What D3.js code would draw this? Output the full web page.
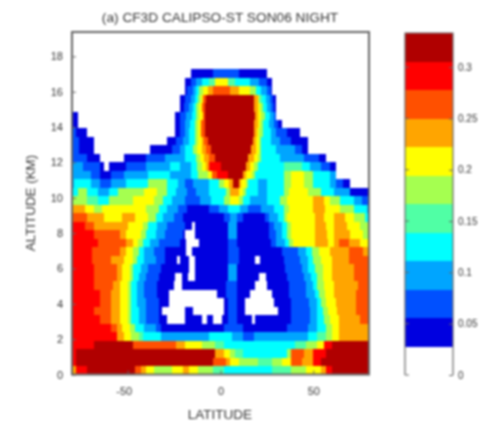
<!DOCTYPE html>
<html>
<head>
<meta charset="utf-8">
<script src="https://cdn.jsdelivr.net/npm/d3@7"></script>
<style>
html, body { margin: 0; background: #fff; }
svg { display: block; filter: blur(1px); }
text { font-family: "Liberation Sans", Arial, sans-serif; fill: #333; }
</style>
</head>
<body>
<svg id="chart" width="481" height="423"></svg>
<script>
// Tick labels
const latTicks = [-50, 0, 50];
const altTicks = [0, 2, 4, 6, 8, 10, 12, 14, 16, 18];
const cfTicks = [0, 0.05, 0.1, 0.15, 0.2, 0.25, 0.3];

// Colour levels of the bar, level 0 is the white one
const levelColors = ["#ffffff", "#0000e0", "#0050ff", "#00a5ff", "#00ffff", "#50ffa5", "#a5ff50",
    "#ffff00", "#ffa500", "#ff5000", "#ff0000", "#b00000"];
const cfMax = 0.3333;
const altStep = 0.48;

// One row per altitude bin, from the ground up: level, latitude where it ends, level, latitude...
const cfRows = [
    [8,-78, 10,-72, 11,-46, 9,-43, 8,-40, 7,-36, 6,-26, 7,-20, 8,-17, 7,-12, 6,-4, 5,2, 4,28, 5,38, 6,46, 7,54, 8,57, 10,60, 11,80],
    [10,-78, 11,-4, 9,3, 8,5, 7,10, 6,20, 5,28, 6,33, 7,38, 9,44, 8,50, 10,54, 11,80],
    [10,-78, 11,-3, 8,2, 7,5, 6,8, 5,12, 4,36, 6,38, 9,45, 8,50, 10,57, 11,80],
    [10,-68, 11,-47, 9,-24, 8,-19, 7,-10, 6,-3, 5,2, 4,40, 5,46, 6,52, 7,56, 10,60, 11,80],
    [10,-56, 8,-52, 7,-48, 6,-44, 5,-42, 4,-32, 3,-6, 4,6, 3,12, 2,18, 3,47, 4,52, 5,57, 6,60, 7,64, 8,80],
    [10,-59, 9,-56, 8,-53, 7,-49, 6,-46, 4,-41, 3,-35, 2,-32, 1,2, 2,12, 1,36, 2,47, 3,52, 4,57, 6,60, 7,64, 8,80],
    [10,-65, 9,-59, 8,-54, 7,-50, 6,-48, 4,-44, 3,-40, 2,-33, 1,-29, 0,-19, 1,-10, 0,-7.5, 1,-4, 0,1, 1,4, 2,9, 1,17, 0,18.5, 1,38, 2,48, 3,52, 4,55.5, 6,59, 7,64, 8,75, 9,80],
    [10,-68, 9,-59, 8,-54, 7,-50, 6,-48, 4,-44, 3,-40, 2,-33, 1,-31.7, 0,-19, 1,-15, 0,2, 1,4, 2,9, 1,13, 0,31, 1,38, 2,48, 3,52, 4,55, 6,58, 7,63, 8,73, 9,80],
    [10,-65, 9,-59, 8,-54, 7,-50, 6,-48, 4,-45, 3,-40, 2,-33, 1,-28, 0,2, 1,4, 2,9, 1,13, 0,29, 1,38, 2,47.5, 3,52, 4,54, 6,57, 7,62, 8,73, 9,80],
    [10,-65, 9,-59, 8,-54, 7,-50, 6,-48, 4,-45, 3,-41, 2,-34, 1,-28, 0,-2, 1,3, 2,9, 1,16, 0,27.6, 1,37, 2,46, 3,51, 4,53, 6,56.5, 7,61, 8,73, 9,80],
    [10,-68, 9,-58, 8,-54, 7,-50, 6,-48, 4,-45, 3,-41, 2,-34, 1,-25, 0,-21, 1,3, 2,9, 1,18.6, 0,25, 1,37, 2,46, 3,50, 4,52, 6,56, 7,61, 8,74, 9,80],
    [10,-68, 9,-56, 8,-53, 7,-49, 6,-47, 4,-44, 3,-40, 2,-33, 1,-24.5, 0,-20.5, 1,-17.5, 0,-13.7, 1,4, 3,9, 1,21, 0,24.5, 1,36, 2,45, 3,49, 4,52, 6,55, 7,60, 8,72, 9,80],
    [10,-68, 9,-56, 8,-53, 7,-49, 6,-47, 4,-43, 3,-39, 2,-32, 1,-17, 0,-13.7, 1,4, 3,9, 1,35, 2,44, 3,47, 4,51, 6,55, 7,60, 8,72, 9,80],
    [10,-69, 9,-59, 8,-52, 7,-47, 6,-45, 4,-41, 3,-35, 2,-30, 1,-23.6, 0,-21.6, 1,-17, 0,-13.7, 1,4, 2,10, 1,18.6, 0,21.4, 1,34, 2,43, 3,47, 4,50, 6,54, 7,60, 8,69, 9,80],
    [10,-69, 9,-54, 8,-51, 7,-47, 6,-44, 4,-41, 3,-36, 2,-30, 1,-18.6, 0,-15.5, 1,4, 2,10, 1,33, 2,42, 3,46, 4,49.5, 6,53, 7,59, 8,69, 9,77, 8,80],
    [10,-66, 9,-51, 8,-47, 7,-44.5, 6,-42, 4,-38, 3,-33, 2,-22, 1,-18.6, 0,-11.6, 1,4, 2,9, 1,27, 2,30, 3,35, 4,37, 6,39, 7,51, 8,58, 7,61, 8,64, 9,69, 8,75, 7,80],
    [10,-68, 9,-54, 8,-51, 7,-43, 6,-40, 4,-35, 3,-30, 2,-20, 1,-19, 0,-14, 1,4, 3,9, 1,26, 2,30, 3,33, 4,36, 6,38, 7,51, 8,57.5, 7,61, 8,70, 7,77, 6,80],
    [10,-73, 9,-68, 8,-50, 7,-42, 6,-39, 4,-34, 3,-29, 2,-19, 1,-15.5, 0,-13.7, 1,4, 3,9, 1,26, 2,29, 3,33, 4,36, 6,38, 7,51, 8,57, 7,61, 8,68, 7,75, 6,80],
    [9,-72, 8,-63, 7,-53, 8,-46, 7,-39, 6,-35, 4,-31, 3,-25, 2,-20, 1,2, 2,5, 3,9, 2,12, 1,24, 2,26, 3,31, 4,34, 6,36, 7,51, 8,56, 7,61, 8,67, 7,72, 6,78, 4,80],
    [8,-73, 7,-68, 6,-64, 7,-40, 6,-33, 4,-29, 3,-23, 2,-18, 1,-6, 2,-1, 3,4, 4,10.5, 3,15, 2,22, 3,29, 4,34, 6,37, 7,50, 8,56.5, 7,64.5, 6,72, 4,79, 3,80],
    [6,-72, 5,-66, 4,-60, 6,-47, 7,-36, 6,-31, 4,-26, 3,-19, 2,-11, 3,-5, 4,2, 6,5, 7,10, 6,12, 4,16, 3,25, 4,32, 6,36, 7,50, 8,55.5, 7,59, 6,64.5, 4,72, 3,76, 2,80],
    [4,-77, 6,-72, 4,-66, 3,-60, 4,-55, 6,-41, 7,-34, 6,-29, 4,-24, 3,-18, 2,-13, 3,-6, 4,3, 6,5, 8,10, 7,12, 6,14, 4,20, 3,25, 4,34, 6,37, 7,47, 6,54, 4,61, 3,70, 1,80],
    [3,-79, 4,-70, 3,-65, 2,-59, 3,-51, 4,-39, 6,-29, 4,-23, 3,-19, 2,-15, 3,-6, 4,-1, 6,2, 7,4.5, 8,7, 11,10, 8,11, 7,13.5, 6,15, 4,20, 3,25, 4,34, 6,38, 7,45, 6,50, 4,59, 3,62, 2,66, 1,70, 0,80],
    [3,-70, 2,-65, 1,-59, 2,-52, 3,-39, 4,-27, 3,-16, 4,-12, 6,-7, 7,-4.5, 9,-2, 10,4, 11,12, 8,14, 7,17, 6,18.6, 4,34, 6,38, 7,45, 6,50, 4,59, 3,62, 0,80],
    [3,-74, 2,-65, 1,-63, 0,-60, 1,-51, 2,-40, 3,-27, 4,-22, 3,-16, 4,-12.5, 6,-10, 7,-8, 8,-6, 10,0, 11,14, 8,16, 7,18, 6,20, 4,34, 5,44, 4,48, 3,54, 2,59, 1,62, 0,80],
    [2,-72, 1,-65, 0,-52, 1,-40, 2,-30, 3,-19, 4,-13, 6,-11, 7,-9, 8,-6, 9,-3, 11,15, 8,18, 7,20, 6,22, 4,32, 3,45, 2,53, 1,57, 0,80],
    [2,-76, 1,-68, 0,-38, 1,-26, 2,-22, 3,-19, 4,-15, 6,-12.5, 7,-10, 8,-8, 9,-5, 11,16.5, 8,19, 7,20.5, 6,22, 4,30, 3,40, 2,44, 1,47, 0,80],
    [2,-76, 1,-68, 0,-29, 1,-24, 2,-20, 3,-17, 4,-14, 6,-12, 7,-10, 8,-9, 9,-7, 11,17.5, 8,19, 7,20.5, 6,22, 4,27, 3,32, 2,38, 1,47, 0,80],
    [2,-78, 1,-72, 0,-24.5, 1,-22, 2,-19, 3,-17, 4,-14, 6,-12, 7,-10.5, 9,-8.5, 11,18, 8,19.5, 7,21, 6,23, 4,27, 3,30, 2,36, 1,43, 0,80],
    [1,-77, 0,-24.5, 1,-22, 2,-19, 3,-16.5, 4,-14, 6,-12, 7,-10.5, 9,-8.5, 11,18, 8,20, 7,21.5, 6,23, 4,26, 3,29, 2,31, 1,33, 0,80],
    [1,-77, 0,-24.5, 1,-22, 2,-18.6, 3,-15.5, 4,-13, 6,-11.4, 7,-9.6, 9,-8.4, 11,18.6, 8,20.4, 7,22, 6,24, 4,26.7, 3,29, 2,30, 0,80],
    [0,-22, 1,-19.5, 2,-17, 3,-15, 4,-13, 6,-11.5, 7,-10, 9,-8.5, 11,18, 8,20, 7,21.5, 6,23, 4,25, 3,27, 2,29, 1,30, 0,80],
    [0,-22, 1,-19, 2,-16, 3,-14, 4,-12, 6,-10.5, 7,-9.5, 9,-8, 11,18, 8,20, 7,21, 5,22.5, 4,24.5, 3,26.5, 2,28.5, 1,30, 0,80],
    [0,-19, 1,-18, 2,-15, 3,-13, 4,-11.5, 6,-9.5, 7,-7, 8,-4, 9,5, 8,10, 7,16, 6,19, 4,22, 3,25, 2,27, 1,28, 0,80],
    [0,-19, 1,-16, 2,-13, 3,-10, 4,-6, 5,-3, 7,4, 5,8, 4,16, 3,21, 2,25, 1,28, 0,80],
    [0,-16, 1,-4, 2,10, 1,25, 0,80]
];

document.addEventListener("DOMContentLoaded", function() {
    const svg = d3.select("#chart");
    const plot = { left: 72, right: 369, top: 32, bottom: 374.5 };
    const axisColor = "#666";

    // Scales
    const xScale = d3.scaleLinear().domain([-80, 80]).range([plot.left, plot.right]);
    const yScale = d3.scaleLinear().domain([0, 19.38]).range([plot.bottom, plot.top]);
    const barScale = d3.scaleLinear().domain([0, cfMax]).range([375, 33]);

    // Turn the rows into rects
    const cells = [];
    cfRows.forEach(function(row, i) {
        let start = -80;
        for (let k = 0; k < row.length; k += 2) {
            cells.push({ level: row[k], lat0: start, lat1: row[k + 1], alt0: i * altStep, alt1: (i + 1) * altStep });
            start = row[k + 1];
        }
    });

    svg.append("g")
        .attr("shape-rendering", "crispEdges")
        .selectAll("rect")
        .data(cells)
        .enter()
        .append("rect")
            .attr("x", d => xScale(d.lat0))
            .attr("width", d => xScale(d.lat1) - xScale(d.lat0))
            .attr("y", d => yScale(d.alt1))
            .attr("height", d => yScale(d.alt0) - yScale(d.alt1))
            .style("fill", d => levelColors[d.level]);

    // Frame
    svg.append("rect")
        .attr("x", plot.left)
        .attr("y", plot.top)
        .attr("width", plot.right - plot.left)
        .attr("height", plot.bottom - plot.top)
        .style("fill", "none")
        .style("stroke", axisColor)
        .style("stroke-width", 2);

    // X axis, the long minus of d3 is swapped for a plain hyphen
    const xAxis = svg.append("g")
        .attr("transform", `translate(0,${plot.bottom})`)
        .call(d3.axisBottom(xScale).tickValues(latTicks).tickFormat(d => String(d)).tickSize(-4).tickPadding(13));
    xAxis.selectAll("text").attr("dx", d => d < 0 ? -4 : 0);

    // Y axis
    const yAxis = svg.append("g")
        .attr("transform", `translate(${plot.left},0)`)
        .call(d3.axisLeft(yScale).tickValues(altTicks).tickSize(-4).tickPadding(9));

    [xAxis, yAxis].forEach(function(a) {
        a.select(".domain").remove();
        a.selectAll("line").style("stroke", axisColor);
        a.selectAll("text").style("font-size", "11px").style("font-family", null);
    });

    // Titles
    svg.append("text")
        .attr("x", 220)
        .attr("y", 22)
        .attr("text-anchor", "middle")
        .style("font-size", "13.7px")
        .text("(a) CF3D CALIPSO-ST SON06 NIGHT");

    svg.append("text")
        .attr("x", 220)
        .attr("y", 419)
        .attr("text-anchor", "middle")
        .style("font-size", "13.5px")
        .text("LATITUDE");

    svg.append("text")
        .attr("transform", "translate(35,203) rotate(-90)")
        .attr("text-anchor", "middle")
        .style("font-size", "13.4px")
        .text("ALTITUDE (KM)");

    // Colour bar
    const bar = { left: 405, right: 453 };
    svg.append("g")
        .attr("shape-rendering", "crispEdges")
        .selectAll("rect")
        .data(levelColors)
        .enter()
        .append("rect")
            .attr("x", bar.left)
            .attr("width", bar.right - bar.left)
            .attr("y", (d, i) => barScale((i + 1) * cfMax / levelColors.length))
            .attr("height", (barScale(0) - barScale(cfMax)) / levelColors.length)
            .style("fill", d => d);

    // sides of the bar, open at the bottom
    svg.append("path")
        .attr("d", d3.line()([[bar.left, barScale(0)], [bar.left, barScale(cfMax)], [bar.right, barScale(cfMax)], [bar.right, barScale(0)]]))
        .style("fill", "none")
        .style("stroke", axisColor)
        .style("stroke-width", 1.2);

    const barAxis = svg.append("g")
        .attr("transform", `translate(${bar.right},0)`)
        .call(d3.axisRight(barScale).tickValues(cfTicks).tickFormat(d => d).tickSize(-4).tickPadding(5));
    barAxis.select(".domain").remove();
    barAxis.selectAll("line").style("stroke", axisColor);
    barAxis.selectAll("text").style("font-size", "10px").style("font-family", null);

    svg.append("g")
        .selectAll("line")
        .data(cfTicks)
        .enter()
        .append("line")
            .attr("x1", bar.left)
            .attr("x2", bar.left + 4)
            .attr("y1", d => barScale(d))
            .attr("y2", d => barScale(d))
            .style("stroke", axisColor);
});
</script>
</body>
</html>
